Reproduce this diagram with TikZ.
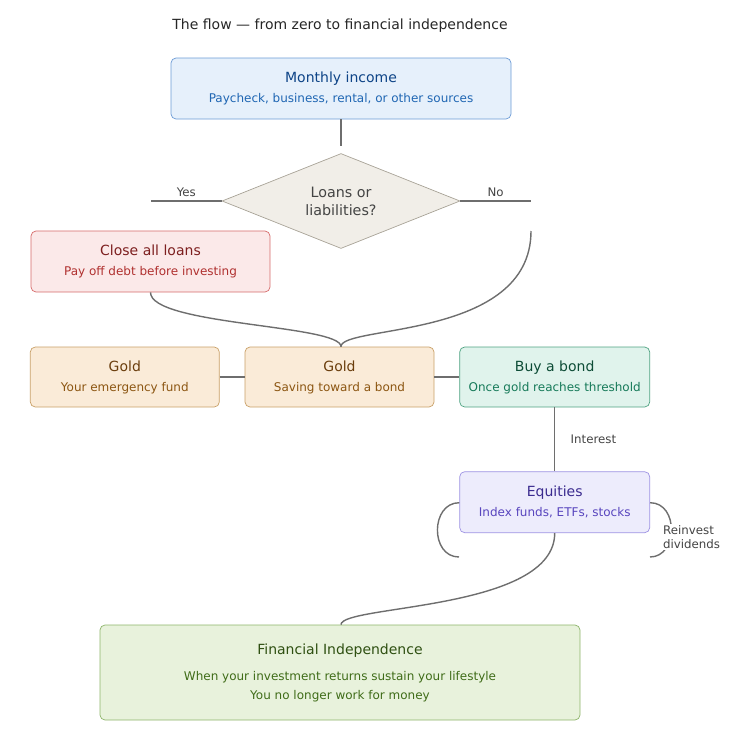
\documentclass[tikz,border=0pt]{standalone}
\usepackage{fontspec}
\setmainfont{DejaVu Sans}
\usetikzlibrary{shapes.geometric,positioning}

\definecolor{incomeFill}{HTML}{E6F0FB}
\definecolor{incomeLine}{HTML}{6C9BD6}
\definecolor{incomeHead}{HTML}{0E4487}
\definecolor{incomeSub}{HTML}{1F66B3}
\definecolor{askFill}{HTML}{F1EEE8}
\definecolor{askLine}{HTML}{A8A397}
\definecolor{askText}{HTML}{444444}
\definecolor{loanFill}{HTML}{FBE9E9}
\definecolor{loanLine}{HTML}{D66A6A}
\definecolor{loanHead}{HTML}{7D1F1F}
\definecolor{loanSub}{HTML}{B0302F}
\definecolor{goldFill}{HTML}{FAEBD8}
\definecolor{goldLine}{HTML}{C9A067}
\definecolor{goldHead}{HTML}{6A3D0C}
\definecolor{goldSub}{HTML}{8C5612}
\definecolor{bondFill}{HTML}{E0F3EC}
\definecolor{bondLine}{HTML}{4FA382}
\definecolor{bondHead}{HTML}{0D4C36}
\definecolor{bondSub}{HTML}{167A59}
\definecolor{eqFill}{HTML}{EDECFC}
\definecolor{eqLine}{HTML}{9D92E3}
\definecolor{eqHead}{HTML}{3B2B8F}
\definecolor{eqSub}{HTML}{5845BE}
\definecolor{fiFill}{HTML}{E8F2DC}
\definecolor{fiLine}{HTML}{8DB46A}
\definecolor{fiHead}{HTML}{2F5012}
\definecolor{fiSub}{HTML}{3F6C18}
\definecolor{linkGrey}{HTML}{6E6E6E}
\definecolor{tagGrey}{HTML}{444444}

\newcommand{\boxhead}[2]{{\color{#1}\fontsize{14}{17}\selectfont #2}}

\begin{document}
\begin{tikzpicture}[
    x=1pt, y=-1pt,
    node distance=25pt,
    card/.style={rectangle, draw, rounded corners=5pt, align=center, line width=0.7pt, font=\fontsize{12}{20}\selectfont},
    incomecard/.style={card, fill=incomeFill, draw=incomeLine, text=incomeSub, minimum width=340pt, minimum height=61pt},
    loancard/.style={card, fill=loanFill, draw=loanLine, text=loanSub, minimum width=239pt, minimum height=61pt},
    goldcard/.style={card, fill=goldFill, draw=goldLine, text=goldSub, minimum width=189pt, minimum height=60pt},
    bondcard/.style={card, fill=bondFill, draw=bondLine, text=bondSub, minimum width=190pt, minimum height=60pt},
    eqcard/.style={card, fill=eqFill, draw=eqLine, text=eqSub, minimum width=190pt, minimum height=61pt},
    ficard/.style={card, fill=fiFill, draw=fiLine, text=fiSub, minimum width=480pt, minimum height=95pt},
    ask/.style={diamond, draw=askLine, fill=askFill, text=askText, line width=0.7pt, aspect=2.5, inner sep=0pt, minimum width=238pt, minimum height=95pt, align=center, font=\fontsize{14.3}{18}\selectfont},
    link/.style={draw=linkGrey, line width=1.4pt},
    tag/.style={font=\fontsize{11.8}{14}\selectfont, text=tagGrey}
]
    \useasboundingbox (0,0) rectangle (730,750);

    \node[font=\fontsize{14}{17}\selectfont, text=black!85] (title) at (340,25.5) {The flow — from zero to financial independence};

    \node[incomecard] (income) at (341,88.5) {\boxhead{incomeHead}{Monthly income}\\Paycheck, business, rental, or other sources};
    \node[ask] (loans) at (341,201) {Loans or\\liabilities?};
    \node[loancard] (close) at (150.5,261.5) {\boxhead{loanHead}{Close all loans}\\Pay off debt before investing};

    \node[goldcard] (goldsave) at (339.5,377) {\boxhead{goldHead}{Gold}\\Saving toward a bond};
    \node[goldcard, left=of goldsave] (goldfund) {\boxhead{goldHead}{Gold}\\Your emergency fund};
    \node[bondcard, right=of goldsave] (bond) {\boxhead{bondHead}{Buy a bond}\\Once gold reaches threshold};
    \node[eqcard, below=64pt of bond] (equities) {\boxhead{eqHead}{Equities}\\Index funds, ETFs, stocks};

    \node[ficard] (freedom) at (340,672.5) {\boxhead{fiHead}{Financial Independence}\\[6pt]When your investment returns sustain your lifestyle\\[-1pt]You no longer work for money};

    \coordinate (yesend) at (151,201);
    \coordinate (noend) at (531,201);
    \coordinate (nostart) at (531,231);
    \coordinate (loopin) at (459,557);
    \coordinate (loopout) at (650,557);

    \draw[link, shorten >=7pt] (income) -- (loans);
    \draw[link] (loans.west) -- (yesend) node[tag, midway, above] {Yes};
    \draw[link] (loans.east) -- (noend) node[tag, midway, above] {No};
    \draw[link] (close.south) .. controls +(0,33) and +(0,-22) .. ([xshift=1.5pt]goldsave.north);
    \draw[link] (nostart) .. controls +(0,109) and +(0,-22) .. ([xshift=1.5pt]goldsave.north);
    \draw[link] (goldfund) -- (goldsave);
    \draw[link] (goldsave) -- (bond);
    \draw[link] (bond) -- (equities) node[tag, midway, right, xshift=12pt] {Interest};
    \draw[link] ([yshift=-0.5pt]equities.east) .. controls +(29,0) and +(28,0) .. (loopout);
    \draw[link] (loopin) .. controls +(-29,0) and +(-29,0) .. ([yshift=-0.5pt]equities.west);
    \node[tag, fill=white, anchor=west, align=left, inner sep=1pt, font=\fontsize{11.8}{14}\selectfont] (reinvest) at (662,537) {Reinvest\\dividends};
    \draw[link] (equities.south) .. controls +(0,78) and +(0,-20) .. ([xshift=1pt]freedom.north);
\end{tikzpicture}
\end{document}
